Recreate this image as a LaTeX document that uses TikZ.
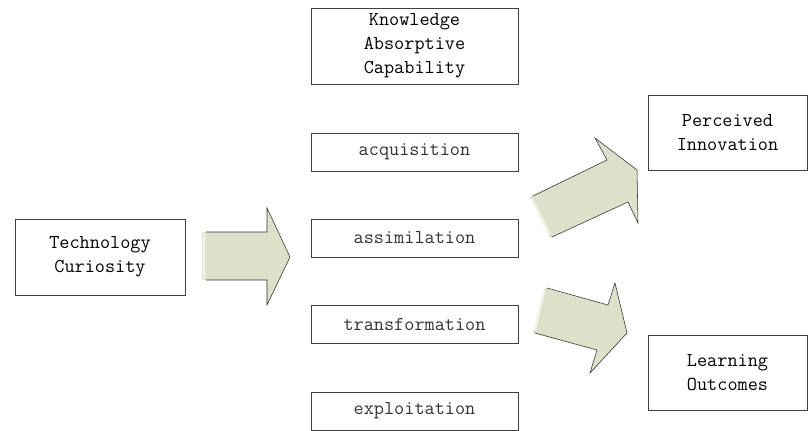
\documentclass[tikz,border=0pt]{standalone}
\usepackage{fontspec}
\usetikzlibrary{positioning}
\definecolor{arrowfill}{RGB}{221,225,202}
\tikzstyle{box}=[draw=black!75,thin,inner sep=0pt,align=center,font=\ttfamily\fontsize{14}{17}\selectfont]
\tikzstyle{mainbox}=[box,minimum width=4.25cm,minimum height=1.9cm]
\tikzstyle{stage}=[box,text=black!80,minimum width=5.175cm,minimum height=0.95cm]
\tikzstyle{blockarrow}=[fill=arrowfill,draw=none]
\tikzstyle{arrowline}=[draw=black!80,thin,line join=miter]
\tikzstyle{tailshine}=[draw=arrowfill!35,line width=1.6pt]

\begin{document}
\begin{tikzpicture}[x=0.025cm,y=-0.025cm]
   \useasboundingbox (0,0) rectangle (808,430);

   \node[mainbox] (tc) at (100,257) {Technology\\Curiosity};
   \node[mainbox,minimum width=5.175cm] (kac) at (414.5,46) {Knowledge\\Absorptive\\Capability};

    \foreach \pos/\name/\txt in {{(414.5,152)/acq/acquisition}, {(414.5,238)/ass/assimilation},
        {(414.5,324.5)/tra/transformation}, {(414.5,411)/exp/exploitation}}
        \node[stage] (\name) at \pos {\txt};

   \node[mainbox,minimum width=3.975cm,minimum height=1.875cm] (pi) at (727.5,132.5) {Perceived\\Innovation};
   \node[mainbox,minimum width=3.975cm,minimum height=1.875cm] (lo) at (727.5,372.5) {Learning\\Outcomes};

    % block arrows
   \path[blockarrow] (202,232) -- (267,232) -- (267,208) -- (290,257) -- (267,305) -- (267,280) -- (202,280) -- cycle;
   \draw[arrowline] (206,232) -- (267,232) -- (267,208) -- (290,257) -- (267,305) -- (267,280) -- (206,280);
   \draw[tailshine] (204,233) -- (204,279);

   \path[blockarrow] (530,197) -- (607,160) -- (595,138) -- (637,170) -- (638,223) -- (628,202) -- (550,238) -- cycle;
   \draw[arrowline] (533,196) -- (607,160) -- (595,138) -- (637,170) -- (638,223) -- (628,202) -- (552,237);
   \draw[tailshine] (532,199) -- (550,235);

   \path[blockarrow] (545,288) -- (608,305) -- (615,283) -- (627,333) -- (590,373) -- (597,350) -- (533,333) -- cycle;
   \draw[arrowline] (547,288) -- (608,305) -- (615,283) -- (627,333) -- (590,373) -- (597,350) -- (535,333);
   \draw[tailshine] (544,291) -- (535,330);

\end{tikzpicture}
\end{document}
